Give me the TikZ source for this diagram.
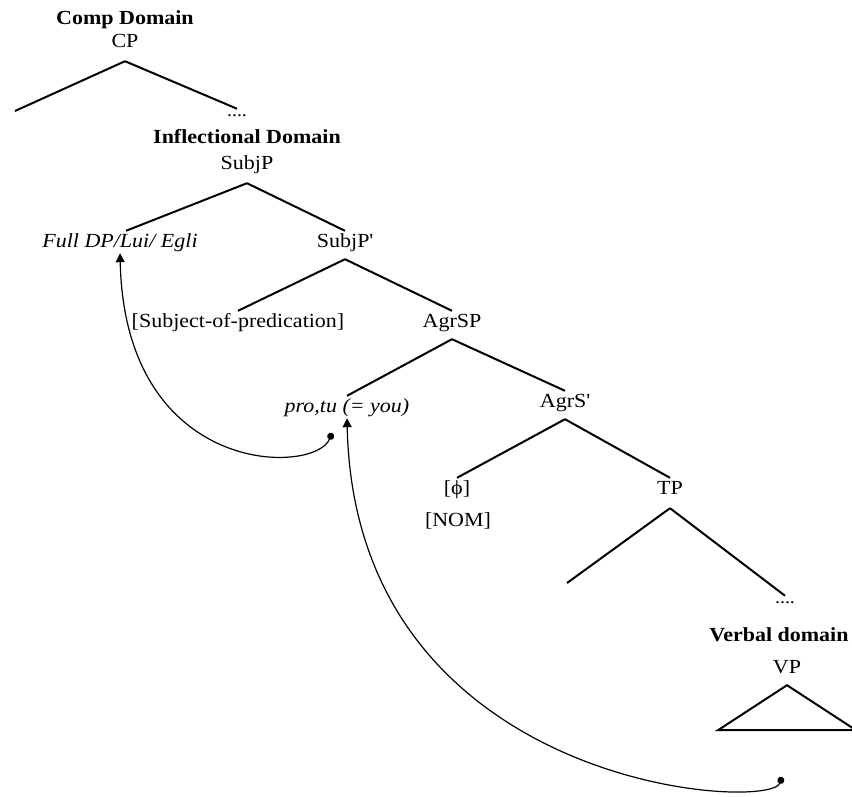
\documentclass[tikz,border=0pt]{standalone}
\usepackage{fontspec}
\setmainfont{Liberation Serif}[FakeStretch=1.1]
\usetikzlibrary{arrows.meta}

\begin{document}
\begin{tikzpicture}[x=1pt, y=-1pt, font=\fontsize{20}{24}\selectfont,
	catNode/.style={inner xsep=3pt, inner ysep=2pt, text height=14pt, text depth=4pt},
	domainNode/.style={inner sep=2pt, font=\fontsize{20}{24}\selectfont\bfseries},
	dotsNode/.style={inner sep=0pt, font=\fontsize{18}{20}\selectfont},
	branch/.style={line width=2pt},
	movement/.style={line width=1.2pt, {Circle[length=7pt]}-{Triangle[length=9pt,width=9pt]}}]
	\useasboundingbox (0,0) rectangle (852,796);

	% Comp domain
	\node[domainNode] (compDom) at (125,20) {Comp Domain};
	\node[catNode] (CP) at (125,42) {CP};
	\coordinate (cpTop) at ([yshift=-8pt]CP.south);
	\coordinate (cpLeft) at (15,111);
	\node[dotsNode] (dotsI) at (237,116) {....};
	\draw[branch] (cpTop) -- (cpLeft);
	\draw[branch] (cpTop) -- ([yshift=6pt]dotsI.north);

	% Inflectional domain
	\node[domainNode] (inflDom) at (247,137) {Inflectional Domain};
	\node[catNode] (SubjP) at (247,164) {SubjP};
	\coordinate (subjTop) at ([yshift=-8pt]SubjP.south);
	\node[catNode] (fullDP) at (120,242) {\textit{Full DP/Lui/ Egli}};
	\node[catNode] (SubjPbar) at (345,242) {SubjP\textquotesingle};
	\draw[branch] (subjTop) -- ([xshift=6pt]fullDP.north);
	\draw[branch] (subjTop) -- (SubjPbar.north);

	\coordinate (subjBarTop) at ([yshift=-6pt]SubjPbar.south);
	\node[catNode] (subjPred) at (238,322) {[Subject-of-predication]};
	\node[catNode] (AgrSP) at (452,322) {AgrSP};
	\draw[branch] (subjBarTop) -- (subjPred.north);
	\draw[branch] (subjBarTop) -- (AgrSP.north);

	\coordinate (agrspTop) at ([yshift=-6pt]AgrSP.south);
	\node[catNode] (proTu) at (347,407) {\textit{pro,tu (= you)}};
	\node[catNode] (AgrSbar) at (565,402) {AgrS\textquotesingle};
	\draw[branch] (agrspTop) -- (proTu.north);
	\draw[branch] (agrspTop) -- (AgrSbar.north);

	\coordinate (agrsTop) at ([yshift=-6pt]AgrSbar.south);
	\node[catNode] (phi) at (457,489) {[ϕ]};
	\node[catNode] (nom) at (458,521) {[NOM]};
	\node[catNode] (TP) at (670,489) {TP};
	\draw[branch] (agrsTop) -- (phi.north);
	\draw[branch] (agrsTop) -- (TP.north);

	\coordinate (tpTop) at ([yshift=-8pt]TP.south);
	\coordinate (tpLeft) at (567,583);
	\node[dotsNode] (dotsV) at (785,603) {....};
	\draw[branch] (tpTop) -- (tpLeft);
	\draw[branch] (tpTop) -- ([yshift=6pt]dotsV.north);

	% Verbal domain
	\node[domainNode] (verbDom) at (779,635) {Verbal domain};
	\node[catNode] (VP) at (787,668) {VP};
	\draw[branch] ([yshift=-6pt]VP.south) -- ++(-69,45) -- ++(138,0) -- cycle;

	% Movement arrows
	\coordinate (proDot) at (332,433);
	\coordinate (vpDot) at (782,777);
	\draw[movement] (proDot) .. controls (315,475) and (125,478) .. (fullDP.south);
	\draw[movement] (vpDot) .. controls (770,812) and (355,790) .. (proTu.south);
\end{tikzpicture}
\end{document}
